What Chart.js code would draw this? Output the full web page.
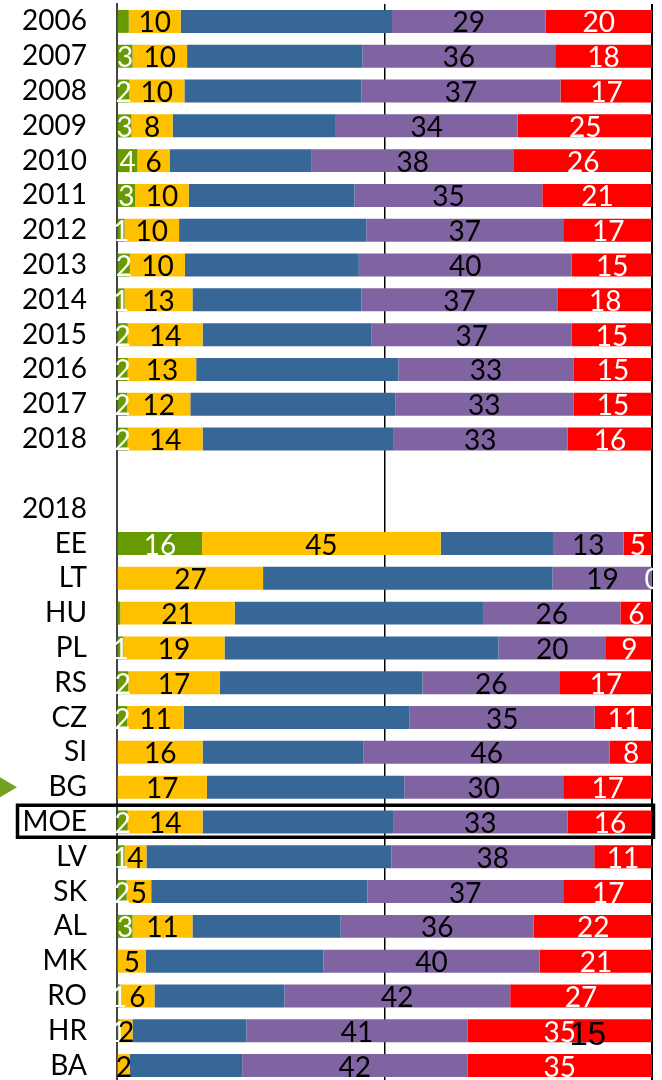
<!DOCTYPE html>
<html>
<head>
<meta charset="utf-8">
<script src="https://cdn.jsdelivr.net/npm/chart.js@4.4.1/dist/chart.umd.min.js"></script>
<style>
  html, body { margin: 0; padding: 0; background: #fff; overflow: hidden; }
  #wrap { width: 662px; height: 1080px; overflow: hidden; }
</style>
</head>
<body>
<div id="wrap"><canvas id="grafico" width="662" height="1083"></canvas></div>
<script>
const categorias = ['2006', '2007', '2008', '2009', '2010', '2011', '2012', '2013', '2014', '2015', '2016', '2017', '2018',
  '', '2018', 'EE', 'LT', 'HU', 'PL', 'RS', 'CZ', 'SI', 'BG', 'MOE', 'LV', 'SK', 'AL', 'MK', 'RO', 'HR', 'BA'];

const verde   = [2.2, 2.9, 2.3, 2.7, 3.8, 3.4, 1.4, 2.4, 1.4, 2.0, 2.0, 1.9, 2.0,
  null, null, 15.9, 0, 0.6, 1.2, 2.1, 1.9, 0, 0, 2.0, 1.4, 1.8, 2.9, 0, 0.6, 0.5, 0];
const amarillo = [9.7, 10.2, 10.3, 7.7, 6.1, 10.0, 10.2, 10.3, 12.7, 14.0, 12.8, 11.8, 14.0,
  null, null, 44.6, 27.3, 21.4, 18.9, 17.1, 10.6, 16.0, 16.8, 14.0, 4.1, 4.6, 11.2, 5.4, 6.4, 2.4, 2.4];
const azul    = [39.5, 32.8, 33.1, 30.5, 26.5, 31.0, 35.0, 32.5, 31.6, 31.6, 37.8, 38.3, 35.6,
  null, null, 21.0, 54.1, 46.4, 51.2, 37.9, 42.2, 30.1, 36.9, 35.6, 45.8, 40.4, 27.7, 33.2, 24.3, 21.3, 21.0];
const morado  = [28.7, 36.0, 37.2, 34.0, 37.8, 35.1, 36.8, 39.8, 36.6, 37.4, 32.7, 33.3, 32.6,
  null, null, 13.2, 18.7, 25.7, 20.1, 25.7, 34.6, 46.0, 29.7, 32.6, 37.9, 36.6, 36.1, 40.4, 42.2, 41.3, 42.1];
const rojo    = [19.9, 18.1, 17.2, 25.2, 25.9, 20.6, 16.8, 15.1, 17.9, 15.0, 14.8, 14.8, 15.9,
  null, null, 5.3, 0, 6.0, 8.7, 17.2, 10.8, 8.0, 16.7, 15.9, 10.8, 16.8, 22.2, 21.1, 26.5, 34.5, 34.5];

// etiquetas que no se muestran / ceros que sí se muestran
const sinEtiqueta = [['2006', 0], ['HU', 0]];
const conCero = [['LT', 4]];

const fuente = 'Lato, "Open Sans", sans-serif';

const etiquetas = {
  id: 'etiquetas',
  afterDatasetsDraw(chart) {
    const { ctx, chartArea } = chart;
    ctx.save();
    ctx.beginPath();
    ctx.rect(0, 0, chartArea.right + 2, chart.height);
    ctx.clip();
    ctx.font = '28px ' + fuente;
    ctx.textAlign = 'center';
    ctx.textBaseline = 'middle';
    chart.data.datasets.forEach((ds, di) => {
      if (!ds.colorEtiqueta) return;
      const meta = chart.getDatasetMeta(di);
      meta.data.forEach((bar, i) => {
        const v = ds.data[i];
        if (v == null) return;
        const cat = categorias[i];
        if (sinEtiqueta.some(([c, d]) => c === cat && d === di)) return;
        const cero = conCero.some(([c, d]) => c === cat && d === di);
        if (Math.round(v) < 1 && !cero) return;
        ctx.fillStyle = ds.colorEtiqueta;
        ctx.fillText(String(Math.round(v)), (bar.x + bar.base) / 2, bar.y + 2);
      });
    });
    ctx.restore();
  },
  afterDraw(chart) {
    const { ctx, chartArea, scales } = chart;
    const y = scales.y;
    const paso = y.getPixelForValue(1) - y.getPixelForValue(0);
    ctx.save();
    // recuadro MOE
    const yMoe = y.getPixelForValue(categorias.indexOf('MOE'));
    ctx.strokeStyle = '#000';
    ctx.lineWidth = 3.5;
    ctx.strokeRect(17.5, yMoe - paso * 0.48, chartArea.right - 16, paso * 0.92);
    // flecha BG
    const yBg = y.getPixelForValue(categorias.indexOf('BG'));
    ctx.fillStyle = '#72A11E';
    ctx.beginPath();
    ctx.moveTo(0, yBg - 10);
    ctx.lineTo(17, yBg);
    ctx.lineTo(0, yBg + 10);
    ctx.closePath();
    ctx.fill();
    // 15 suelto en HR
    const yHr = y.getPixelForValue(categorias.indexOf('HR'));
    ctx.fillStyle = '#000';
    ctx.font = '33px "Liberation Sans", Arial, sans-serif';
    ctx.textAlign = 'center';
    ctx.textBaseline = 'middle';
    ctx.fillText('15', scales.x.getPixelForValue(88), yHr + 5);
    ctx.restore();
  }
};

const series = [
  { data: verde, backgroundColor: '#669A00', colorEtiqueta: '#fff' },
  { data: amarillo, backgroundColor: '#FFC000', colorEtiqueta: '#000' },
  { data: azul, backgroundColor: '#366797', colorEtiqueta: null },
  { data: morado, backgroundColor: '#8064A2', colorEtiqueta: '#000' },
  { data: rojo, backgroundColor: '#FF0000', colorEtiqueta: '#fff' }
];

new Chart(document.getElementById('grafico').getContext('2d'), {
  type: 'bar',
  data: {
    labels: categorias,
    datasets: series.map(s => ({
      data: s.data,
      backgroundColor: s.backgroundColor,
      colorEtiqueta: s.colorEtiqueta,
      borderWidth: 0,
      barPercentage: 0.66,
      categoryPercentage: 1
    }))
  },
  options: {
    indexAxis: 'y',
    responsive: false,
    animation: false,
    layout: { padding: { top: 4, right: 10, bottom: 0, left: 0 } },
    plugins: {
      legend: { display: false },
      tooltip: { enabled: false }
    },
    scales: {
      x: {
        stacked: true,
        min: 0,
        max: 100,
        ticks: { display: false, stepSize: 50 },
        grid: {
          drawTicks: false,
          color: c => (c.tick && (c.tick.value === 50 || c.tick.value === 100)) ? '#000' : 'rgba(0,0,0,0)',
          lineWidth: c => (c.tick && c.tick.value === 100) ? 2 : 1.5
        },
        border: { display: false }
      },
      y: {
        stacked: true,
        ticks: { color: '#000', font: { family: fuente, size: 28 }, padding: 30, autoSkip: false },
        grid: { display: false, drawTicks: false },
        border: { display: true, color: '#444', width: 2 },
        afterFit: s => { s.width = 117; s.paddingTop = 0; s.paddingBottom = 0; }
      }
    }
  },
  plugins: [etiquetas]
});
</script>
</body>
</html>
